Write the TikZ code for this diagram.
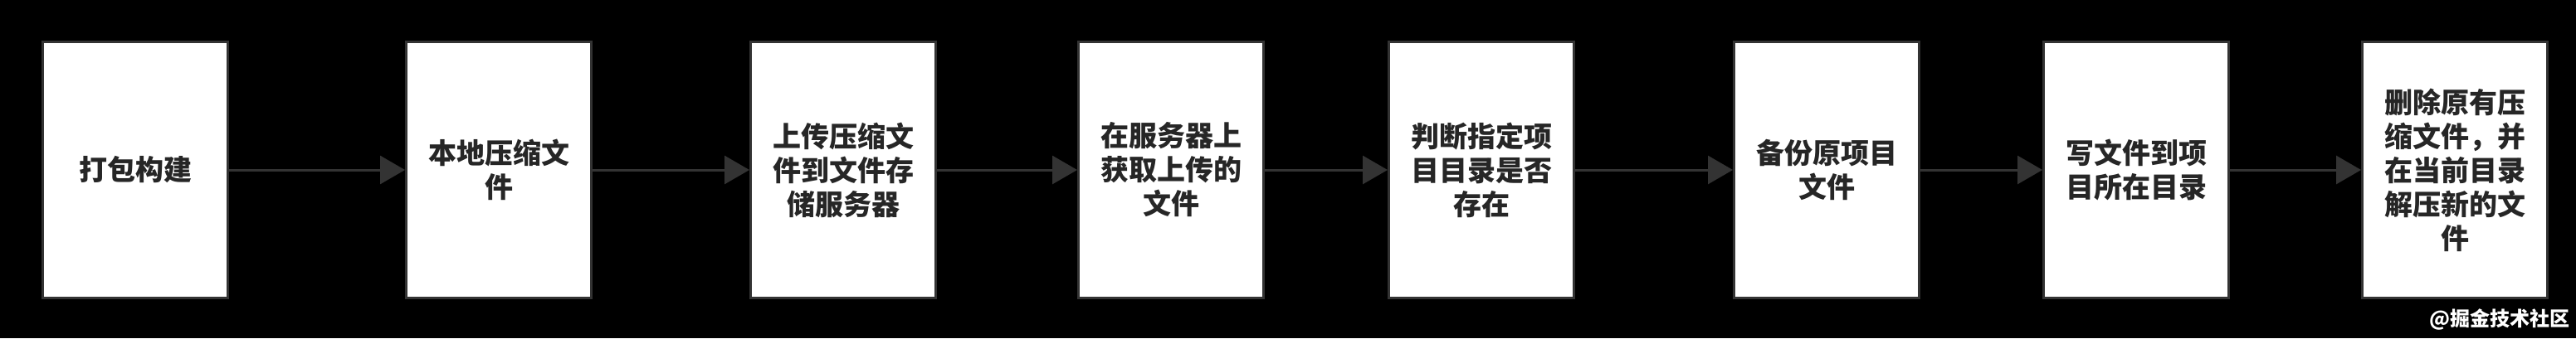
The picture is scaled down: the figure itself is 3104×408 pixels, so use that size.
\documentclass[tikz,border=0pt]{standalone}
\usepackage{fontspec}
\newfontfamily\cjk{Noto Sans CJK SC}
\usetikzlibrary{arrows.meta}
\begin{document}
\begin{tikzpicture}[x=1pt,y=-1pt,
  stepbox/.style={draw=black!80,line width=3pt,fill=white,minimum width=223pt,minimum height=309pt,anchor=north west,inner sep=0pt},
  lbl/.style={align=center,font=\cjk\fontsize{34}{41}\selectfont\bfseries,text=black!85},
  conn/.style={draw=black!80,line width=3pt,-{Triangle[length=30pt,width=34pt]}}]
\fill[black] (0,0) rectangle (3104,408);
\useasboundingbox (0,0) rectangle (3104,408);
\foreach \n/\x/\t in {a/50/打包构建,b/488/本地压缩文\\件,c/903/上传压缩文\\件到文件存\\储服务器,d/1298/在服务器上\\获取上传的\\文件,e/1672/判断指定项\\目目录是否\\存在,f/2088/备份原项目\\文件,g/2461/写文件到项\\目所在目录,h/2845/删除原有压\\缩文件，并\\在当前目录\\解压新的文\\件}{
  \node[stepbox] (\n) at (\x,49) {};
  \node[lbl] (\n t) at (\n.center) {\t};
}
\foreach \p/\q in {a/b,b/c,c/d,d/e,e/f,f/g,g/h}{
  \draw[conn] (\p.east) -- (\q.west);
}
\node[font=\cjk\fontsize{24}{28}\selectfont\bfseries,text=white,anchor=east] (wm) at (3100,385) {@掘金技术社区};
\end{tikzpicture}
\end{document}
